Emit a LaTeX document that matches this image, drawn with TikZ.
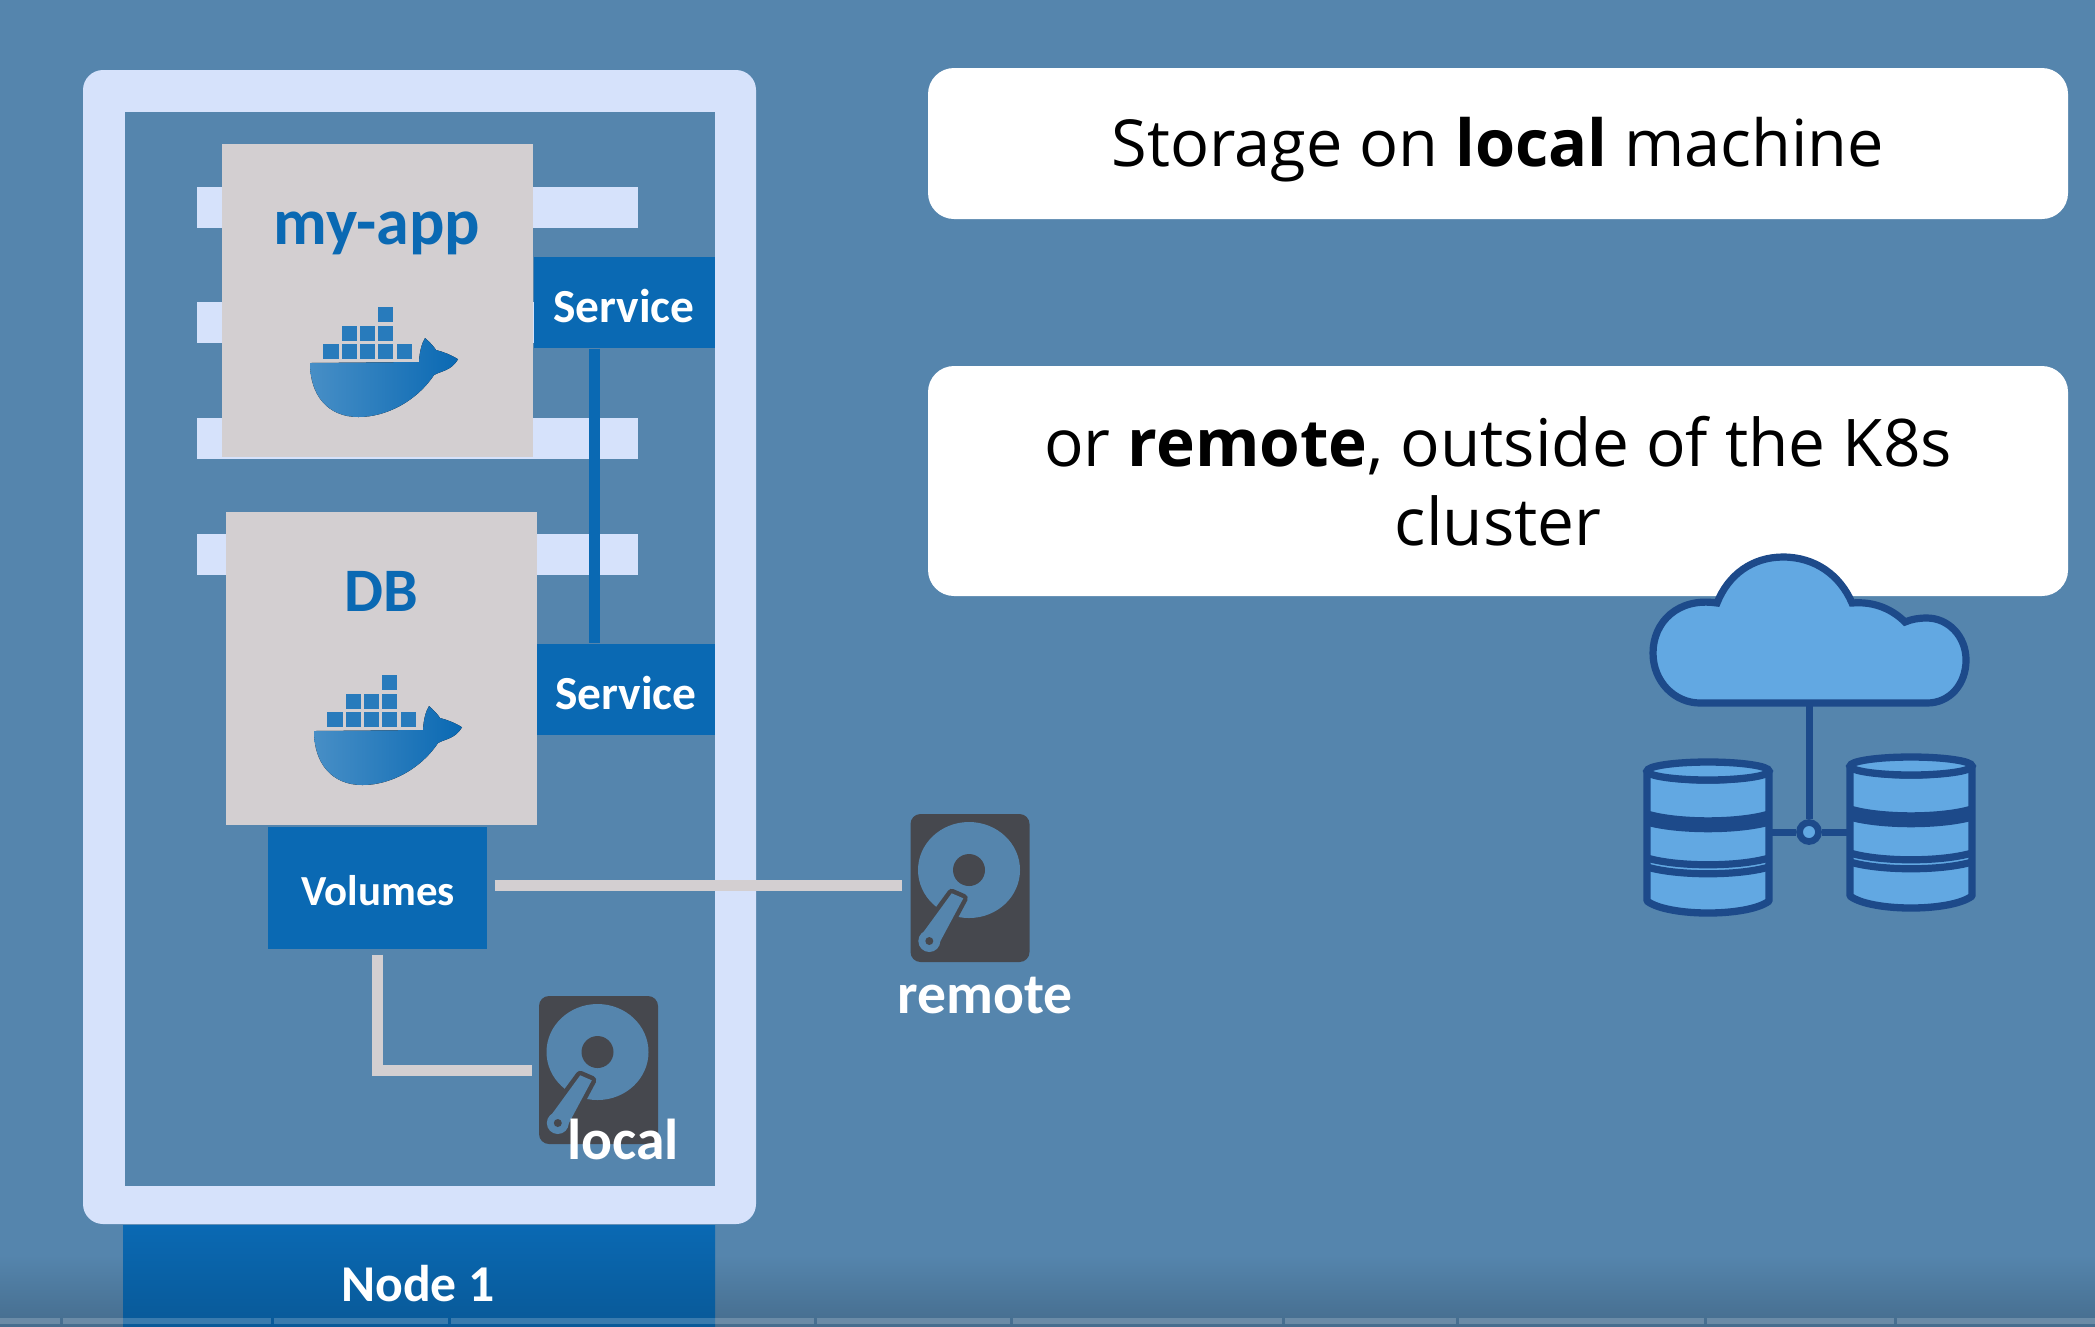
\documentclass[tikz,border=0pt]{standalone}
\usepackage{fontspec}
\setmainfont{Open Sans}
\newfontfamily\labelfont{Carlito}
\usetikzlibrary{positioning}

\definecolor{bgblue}{HTML}{5585AD}
\definecolor{framecol}{HTML}{D6E2FB}
\definecolor{greybox}{HTML}{D3CFD1}
\definecolor{k8sblue}{HTML}{0A69B3}
\definecolor{diskdark}{HTML}{46484E}
\definecolor{cloudfill}{HTML}{62A8E2}
\definecolor{cloudline}{HTML}{1D4A8A}

\tikzset{
  bar/.style={fill=framecol, inner sep=0pt, minimum height=4.1mm, minimum width=44.1mm},
  podbox/.style={fill=greybox, inner sep=0pt, minimum width=31.1mm, minimum height=31.3mm},
  podname/.style={text=k8sblue, font=\labelfont\bfseries\fontsize{#1}{20}\selectfont},
  bluebox/.style={fill=k8sblue, inner sep=0pt},
  bluetext/.style={text=white, font=\labelfont\bfseries\fontsize{#1}{15}\selectfont},
  disklabel/.style={text=white, font=\labelfont\bfseries\fontsize{16.4}{19}\selectfont},
  diskbox/.style={fill=diskdark, rounded corners=1mm, inner sep=0pt, minimum width=11.9mm, minimum height=14.8mm},
  notebox/.style={fill=white, rounded corners=2.6mm, inner sep=0pt, minimum width=114mm, align=center,
    font=\fontsize{#1}{22.5}\selectfont},
  wire/.style={draw=greybox, line width=1.1mm},
  cloudwire/.style={draw=cloudline, line width=.7mm},
  dbnode/.style={inner sep=0pt, minimum width=12.2mm, minimum height=2mm},
  whale/.pic={
    \foreach \a/\b in {-54.5/44,-36/44,-18/44,0/44,19.3/44,-36/25.7,-18/25.7,0/25.7,0/7}
      \fill[k8sblue!88!white] (\a,\b) rectangle ++(15.5,15);
    \fill[left color=k8sblue!75!white, right color=k8sblue] (-67.5,63) -- (41.5,62)
      .. controls (42,52) and (44,44) .. (47.5,38) .. controls (52,42) and (56,46) .. (58.5,50)
      .. controls (66,52) and (74,55) .. (80.5,59.3) .. controls (77,65) and (73,68) .. (68.5,70)
      .. controls (64,72) and (60,73) .. (56.5,75) .. controls (40,100) and (10,117) .. (-19,117)
      .. controls (-50,117) and (-67.5,95) .. (-67.5,63) -- cycle;
  },
  disk/.pic={
    \fill[bgblue] (-1,-18) ellipse [x radius=51, y radius=48];
    \fill[diskdark] (-1,-18) circle [radius=16];
    \draw[diskdark, fill=bgblue, line width=.9mm, line join=round] (-18.3,5.3) -- (-6.7,10.3) -- (-31.7,57) -- (-50,48.7) -- cycle;
    \fill[bgblue] (-18.3,5.3) -- (-6.7,10.3) -- (-31.7,57) -- (-50,48.7) -- cycle;
    \fill[bgblue] (-40.7,53) circle [radius=11];
    \fill[diskdark] (-40.7,53) circle [radius=4];
  },
  dbstack/.pic={
    \draw[cloudline, fill=cloudfill, line width=.73mm, line join=round] (-61,0) -- (-61,130)
      .. controls (-40,146) and (40,146) .. (61,130) -- (61,0)
      .. controls (40,12) and (-40,12) .. (-61,0) -- cycle;
    \draw[cloudline, fill=cloudfill, line width=.73mm] (0,0) ellipse [x radius=61, y radius=9];
    \draw[cloudline, line width=1.5mm] (-61,47) .. controls (-30,56) and (30,56) .. (61,47);
    \draw[cloudline, line width=.72mm] (-61,87) .. controls (-30,96) and (30,96) .. (61,87);
    \draw[cloudline, line width=.72mm] (-61,96) .. controls (-30,105) and (30,105) .. (61,96);
  }
}

\begin{document}
\begin{tikzpicture}[x=.1mm,y=-.1mm]
  \useasboundingbox (0,0) rectangle (2095,1326);
  \fill[bgblue] (0,0) rectangle (2095,1326);
  \fill[top color=bgblue, bottom color=bgblue!82!black] (0,1255) rectangle (2095,1326);

  % worker node
  \node (frame) [fill=framecol, rounded corners=2mm, inner sep=0pt, minimum width=67.3mm, minimum height=115.4mm] at (419.5,647) {};
  \node (inner) [fill=bgblue, inner sep=0pt, minimum width=59mm, minimum height=107.4mm] at (420,649) {};
  \node (node1) [bluebox, top color=k8sblue, bottom color=k8sblue!85!black, minimum width=59.2mm, minimum height=10.1mm] at (419,1275.5) {};
  \node (node1text) [bluetext=14.7] at (418,1284) {Node 1};

  % bars behind the pods
  \node (bar1) [bar] at (417.5,207) {};
  \node (bar2) [bar] at (417.5,322) {};
  \node (bar3) [bar] at (417.5,438.5) {};
  \node (bar4) [bar] at (417.5,554.5) {};

  % pods
  \node (app) [podbox] at (377.5,300) {};
  \node (dbpod) [podbox] at (381.5,668) {};
  \node (appname) [podname=18.8] at (377,233) {my-app};
  \node (dbname) [podname=17.6] at (381,591) {DB};
  \pic at (app) {whale};
  \pic at (dbpod) {whale};

  \node (service1) [bluebox, minimum width=18.1mm, minimum height=9.1mm] at (624,302.5) {};
  \node (service1text) [bluetext=13.5] at (624,306) {Service};
  \node (service2) [bluebox, minimum width=17.8mm, minimum height=9.1mm] at (626,689.5) {};
  \node (service2text) [bluetext=13.5] at (626,693) {Service};
  \path (service1.south) ++(-29.5,0) coordinate (svc1);
  \draw[k8sblue, line width=1.1mm] (svc1) -- (svc1 |- service2.north);

  % volumes and disks
  \node (volumes) [bluebox, minimum width=21.9mm, minimum height=12.2mm] at (377.5,888) {};
  \node (volumestext) [bluetext=12.2] at (378,891) {Volumes};
  \node (remote) [diskbox] at (970,888) {};
  \node (local) [diskbox] at (598.5,1070) {};
  \pic at (remote) {disk};
  \pic at (local) {disk};
  \node (remotetext) [disklabel] at (985,996) {remote};
  \node (localtext) [disklabel] at (623,1139) {local};

  \draw[wire] ([shift={(7,-3)}]volumes.east) -- ([shift={(-8,-3)}]remote.west);
  \draw[wire, shorten <=.5mm] (volumes.south) |- ([xshift=-.6mm]local.west);

  % text boxes
  \node (note1) [notebox=18.45, minimum height=15.1mm, text height=13pt, text depth=0pt] at (1498,143.5) {Storage on \textbf{local} machine};
  \node (note2) [notebox=18.7, minimum height=23mm] at (1498,481) {or \textbf{remote}, outside of the K8s\\cluster};

  % cloud with two databases
  \node (hub) [circle, draw=cloudline, fill=cloudfill, line width=.67mm, minimum size=1.9mm, inner sep=0pt] at (1809,832) {};
  \coordinate (cloudbase) at (1809,703);
  \node (db1) [dbnode] at (1708,771) {};
  \node (db2) [dbnode] at (1911,766) {};
  \draw[cloudwire] (cloudbase) -- (hub);
  \draw[cloudwire] (hub) -- (hub -| db1.east);
  \draw[cloudwire] (hub) -- (hub -| db2.west);
  \pic at (db1) {dbstack};
  \pic at (db2) {dbstack};
  \draw[cloudline, fill=cloudfill, line width=.72mm] (1700,703) -- (1927,703)
    .. controls (1950,703) and (1966,684) .. (1966,660) .. controls (1966,636) and (1948,618) .. (1927,618)
    .. controls (1919,618) and (1912,619) .. (1905,622) .. controls (1893,610) and (1875,601) .. (1852,603)
    .. controls (1840,575) and (1815,557) .. (1783,557) .. controls (1752,557) and (1728,575) .. (1717,603)
    .. controls (1678,597) and (1653,622) .. (1653,653) .. controls (1653,682) and (1675,703) .. (1700,703) -- cycle;

  % strip along the lower edge
  \foreach \a/\b in {0/60,63/271,274/448,451/814,817/1010,1013/1282,1285/1456,1459/1704,1707/1894,1897/2095}
    \fill[white, opacity=.2] (\a,1318) rectangle (\b,1324);
\end{tikzpicture}
\end{document}
